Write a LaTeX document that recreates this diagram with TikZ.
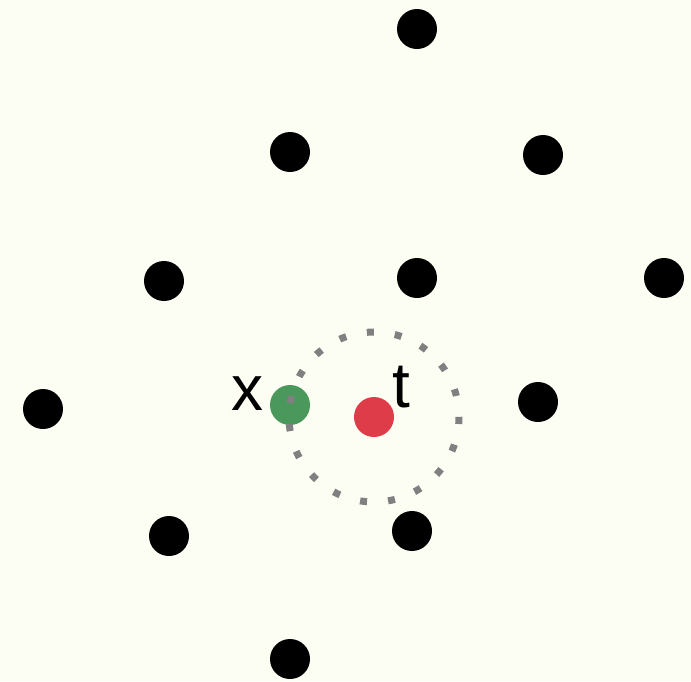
\documentclass[tikz,border=0pt]{standalone}
\usepackage{fontspec}
\setmainfont{Liberation Sans}
\definecolor{paper}{RGB}{253,254,243}
\definecolor{ptgreen}{RGB}{74,152,92}
\definecolor{ptred}{RGB}{221,60,72}
\begin{document}
\begin{tikzpicture}[x=1pt,y=-1pt,
  dot/.style={circle,fill=black,inner sep=0pt,minimum size=40pt},
  lbl/.style={font=\fontsize{64}{64}\selectfont,inner sep=0pt}]
\fill[paper] (0,0) rectangle (691,681);
\useasboundingbox (0,0) rectangle (691,681);
\node[dot] (p0) at (417,29) {};
\node[dot] (p1) at (290,152) {};
\node[dot] (p2) at (543,155) {};
\node[dot] (p3) at (164,281) {};
\node[dot] (p4) at (417,278) {};
\node[dot] (p5) at (664,278) {};
\node[dot] (p6) at (43,409) {};
\node[dot] (p7) at (538,402) {};
\node[dot] (p8) at (169,536) {};
\node[dot] (p9) at (412,531) {};
\node[dot] (p10) at (290,659) {};
\node[dot,fill=ptgreen] (x) at (290,405) {};
\node[dot,fill=ptred] (t) at (374,417) {};
\draw[gray,line width=7pt,dash pattern=on 7pt off 21.1pt] (t) circle (85);
\node[lbl,anchor=base] at (247,410) {x};
\node[lbl,anchor=base] at (401,407) {t};
\end{tikzpicture}
\end{document}
